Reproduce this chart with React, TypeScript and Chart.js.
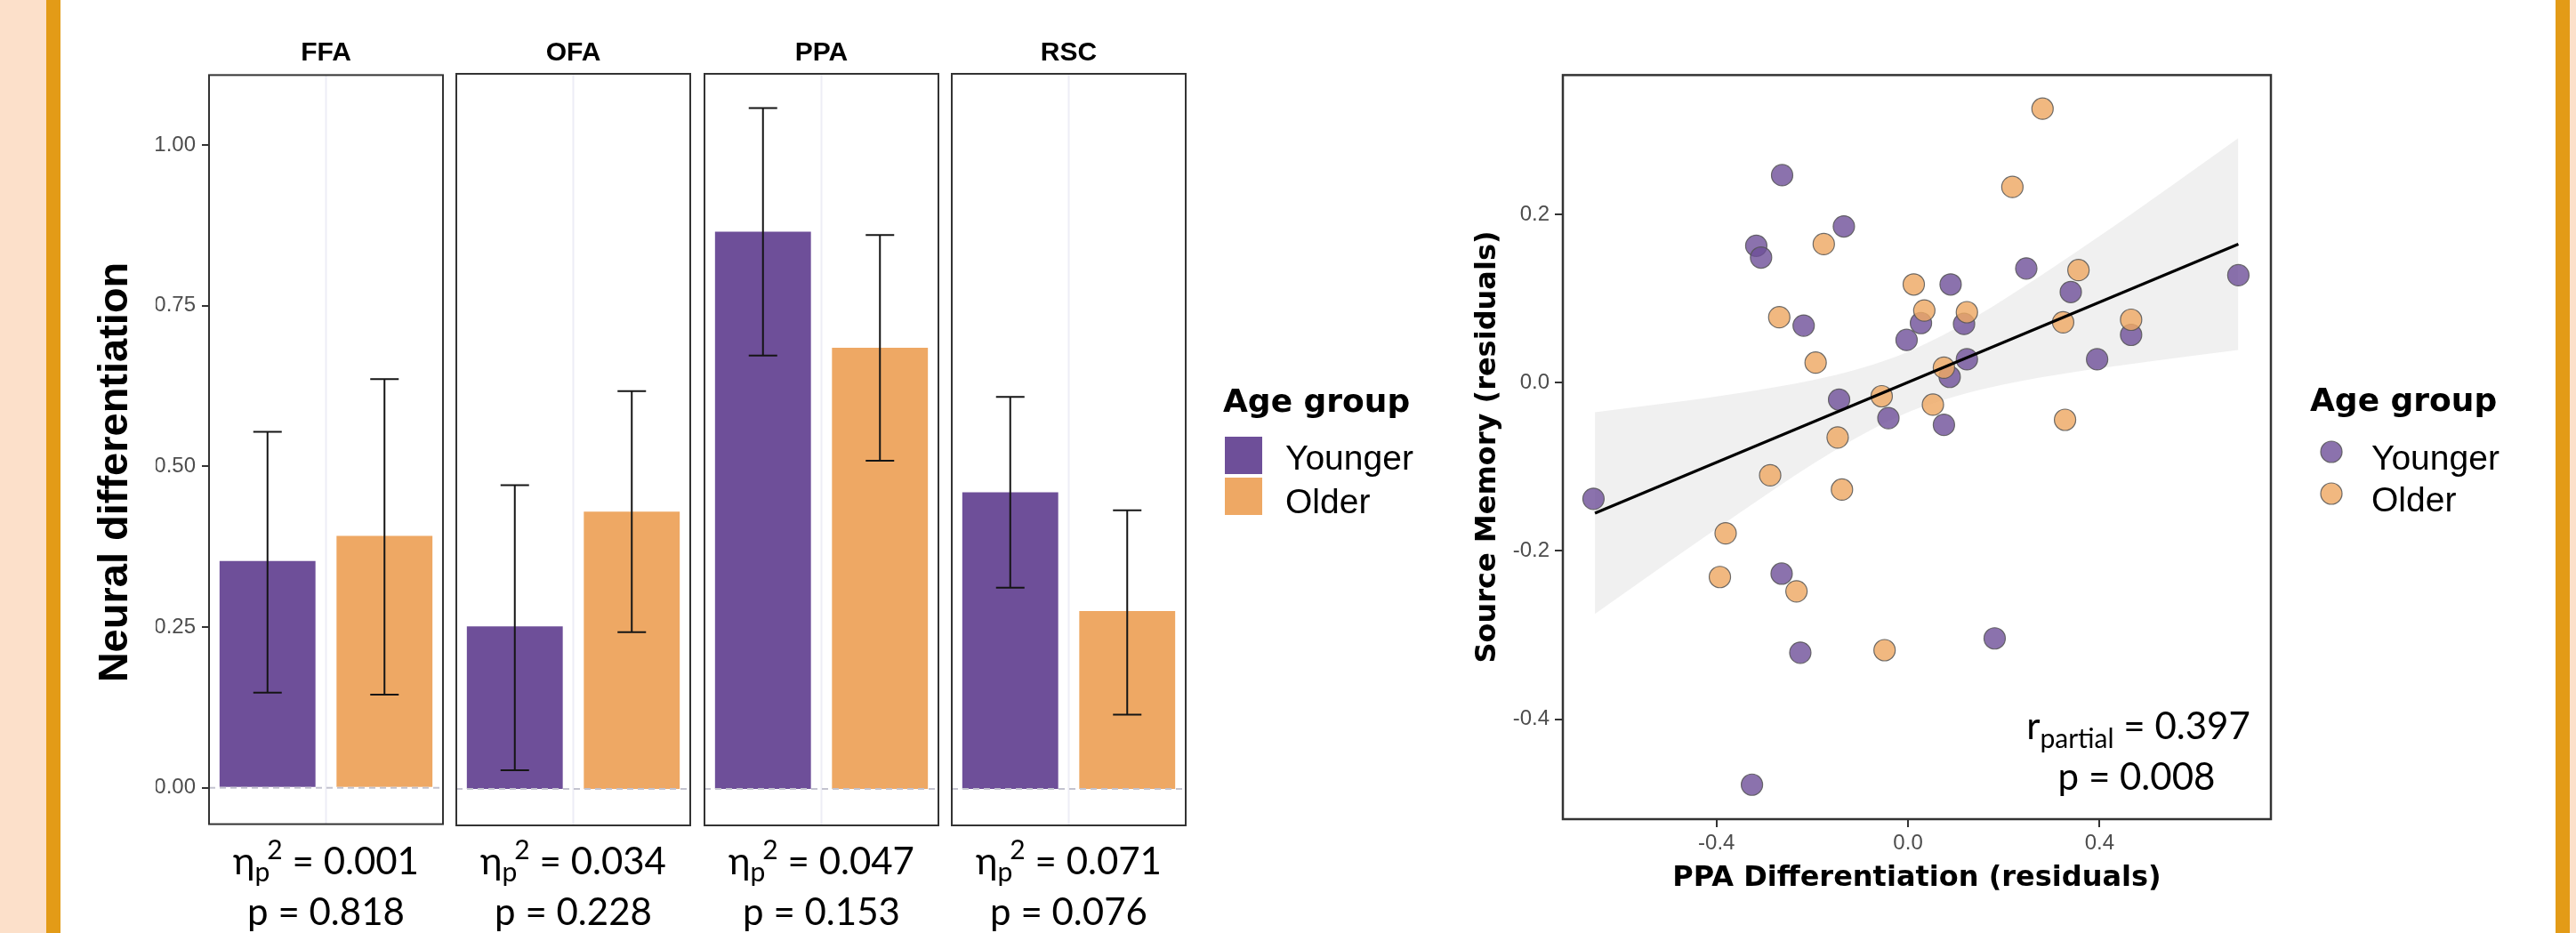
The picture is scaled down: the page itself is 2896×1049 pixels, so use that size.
import React, { useEffect, useRef } from "react";
import { Chart, registerables } from "chart.js";

Chart.register(...registerables);

// ---------------- data: bar facets ----------------
const regions = ["FFA", "OFA", "PPA", "RSC"];
const ageGroups = ["Younger", "Older"];
const youngerMean = [0.353, 0.252, 0.864, 0.46];
const youngerLower = [0.148, 0.029, 0.672, 0.312];
const youngerUpper = [0.554, 0.471, 1.056, 0.608];
const olderMean = [0.392, 0.43, 0.684, 0.276];
const olderLower = [0.145, 0.243, 0.509, 0.115];
const olderUpper = [0.636, 0.617, 0.859, 0.432];
const etaSquared = ["0.001", "0.034", "0.047", "0.071"];
const anovaP = ["0.818", "0.228", "0.153", "0.076"];
const barYTicks = [0, 0.25, 0.5, 0.75, 1.0];

// ---------------- data: scatter ----------------
const youngerX = [-0.263, -0.134, -0.317, -0.307, 0.247, 0.69, 0.089, 0.34, -0.218, 0.027, 0.117, 0.466, -0.003, 0.123, 0.395, 0.087, -0.144, -0.041, 0.075, -0.657, -0.264, 0.181, -0.225, -0.326];
const youngerY = [0.247, 0.186, 0.163, 0.149, 0.136, 0.128, 0.117, 0.108, 0.068, 0.071, 0.07, 0.057, 0.051, 0.028, 0.028, 0.007, -0.02, -0.042, -0.05, -0.138, -0.227, -0.304, -0.321, -0.478];
const olderX = [0.281, 0.218, -0.176, 0.356, 0.012, -0.269, 0.034, 0.123, 0.324, 0.466, -0.193, 0.075, -0.055, 0.052, 0.328, -0.147, -0.288, -0.138, -0.381, -0.393, -0.233, -0.049];
const olderY = [0.326, 0.233, 0.165, 0.134, 0.117, 0.078, 0.086, 0.084, 0.072, 0.075, 0.024, 0.018, -0.016, -0.026, -0.044, -0.065, -0.11, -0.127, -0.179, -0.231, -0.248, -0.318];
const fitX = [-0.654, 0.69];
const fitY = [-0.155, 0.165];
const bandX = [-0.654, -0.5, -0.35, -0.2, -0.1, 0, 0.1, 0.2, 0.35, 0.5, 0.69];
const bandLower = [-0.275, -0.213, -0.154, -0.097, -0.063, -0.035, -0.016, -0.002, 0.013, 0.025, 0.039];
const bandUpper = [-0.035, -0.024, -0.012, 0.003, 0.017, 0.037, 0.065, 0.099, 0.155, 0.214, 0.291];
const scatterXTicks = [-0.4, 0, 0.4];
const scatterYTicks = [-0.4, -0.2, 0, 0.2];
const rPartial = "0.397";
const corrP = "0.008";

// ---------------- layout / style ----------------
const PAGE_W = 2896;
const PAGE_H = 1049;
const PAD = 20;
const FACET_LEFTS = [235, 513, 792, 1070];
const FACET_W = 263;
const FACET_TOP = 83;
const FACET_H = 845;
const BAR_AXIS_W = 60;
const BAR_Y_MIN = -0.0566;
const BAR_Y_MAX = 1.109;

const SC_LEFT = 1757;
const SC_TOP = 84;
const SC_W = 796;
const SC_H = 837;
const SC_AXIS_W = 70;
const SC_AXIS_H = 50;
const SC_X_MIN = -0.721;
const SC_X_MAX = 0.758;
const SC_Y_MIN = -0.519;
const SC_Y_MAX = 0.366;

const PURPLE = "#6E4F99";
const ORANGE = "#EEA864";
const PURPLE_PT = "rgba(110,79,153,0.8)";
const ORANGE_PT = "rgba(238,168,100,0.82)";
const PT_BORDER = "rgba(85,85,85,0.85)";
const PEACH = "#FCE0CA";
const STRIPE = "#E39B17";
const ARIAL = "'Liberation Sans', Arial, sans-serif";
const DEJAVU = "'DejaVu Sans', Verdana, sans-serif";
const CALI = "Lato, 'Open Sans', sans-serif";

const facetDecor = {
  id: "facetDecor",
  beforeDatasetsDraw(chart: any) {
    const { ctx, chartArea: a } = chart;
    ctx.save();
    ctx.strokeStyle = "#EDEDF6";
    ctx.lineWidth = 2;
    const cx = (a.left + a.right) / 2;
    ctx.beginPath();
    ctx.moveTo(cx, a.top);
    ctx.lineTo(cx, a.bottom);
    ctx.stroke();
    ctx.restore();
  },
  afterDatasetsDraw(chart: any, _args: any, opts: any) {
    const { ctx, chartArea: a, scales } = chart;
    const y = scales.y;
    ctx.save();
    const y0 = y.getPixelForValue(0);
    ctx.strokeStyle = "#C3C3CF";
    ctx.lineWidth = 2;
    ctx.setLineDash([7, 5]);
    ctx.beginPath();
    ctx.moveTo(a.left, y0);
    ctx.lineTo(a.right, y0);
    ctx.stroke();
    ctx.setLineDash([]);
    const meta = chart.getDatasetMeta(0);
    ctx.strokeStyle = "#151515";
    ctx.lineWidth = 2;
    meta.data.forEach((bar: any, j: number) => {
      const yl = y.getPixelForValue(opts.lower[j]);
      const yu = y.getPixelForValue(opts.upper[j]);
      const x = bar.x;
      const hw = 16;
      ctx.beginPath();
      ctx.moveTo(x, yl);
      ctx.lineTo(x, yu);
      ctx.moveTo(x - hw, yl);
      ctx.lineTo(x + hw, yl);
      ctx.moveTo(x - hw, yu);
      ctx.lineTo(x + hw, yu);
      ctx.stroke();
    });
    ctx.strokeStyle = "#333333";
    ctx.lineWidth = 2;
    ctx.strokeRect(a.left, a.top, a.right - a.left, a.bottom - a.top);
    ctx.restore();
  },
};

const panelBorder = {
  id: "panelBorder",
  afterDatasetsDraw(chart: any) {
    const { ctx, chartArea: a } = chart;
    ctx.save();
    ctx.strokeStyle = "#333333";
    ctx.lineWidth = 2.5;
    ctx.strokeRect(a.left, a.top, a.right - a.left, a.bottom - a.top);
    ctx.restore();
  },
};

function BarFacet({ index }: { index: number }) {
  const ref = useRef<HTMLCanvasElement>(null);
  const axisW = index === 0 ? BAR_AXIS_W : 0;
  const cw = axisW + PAD * 2 + FACET_W;
  const ch = PAD * 2 + FACET_H;
  const left = FACET_LEFTS[index] - PAD - axisW;
  const top = FACET_TOP - PAD;
  useEffect(() => {
    const yScale: any = {
      display: index === 0,
      min: BAR_Y_MIN,
      max: BAR_Y_MAX,
      afterBuildTicks: (s: any) => {
        s.ticks = barYTicks.map((v) => ({ value: v }));
      },
      ticks: {
        callback: (v: any) => Number(v).toFixed(2),
        font: { family: ARIAL, size: 24 },
        color: "#4D4D4D",
        padding: 7,
      },
      grid: {
        drawOnChartArea: false,
        drawTicks: true,
        tickLength: 8,
        tickColor: "#333333",
        lineWidth: 2,
      },
      border: { display: false },
    };
    if (index === 0) {
      yScale.afterFit = (s: any) => {
        s.width = BAR_AXIS_W;
      };
    }
    const chart = new Chart(ref.current as HTMLCanvasElement, {
      type: "bar",
      data: {
        labels: ageGroups,
        datasets: [
          {
            data: [youngerMean[index], olderMean[index]],
            backgroundColor: [PURPLE, ORANGE],
            borderWidth: 0,
            barPercentage: 0.82,
            categoryPercentage: 1,
          },
        ],
      },
      options: {
        responsive: false,
        animation: false,
        devicePixelRatio: 1,
        layout: { padding: { left: PAD, right: PAD, top: PAD, bottom: PAD } },
        plugins: {
          legend: { display: false },
          tooltip: { enabled: false },
          facetDecor: {
            lower: [youngerLower[index], olderLower[index]],
            upper: [youngerUpper[index], olderUpper[index]],
          },
        } as any,
        scales: {
          x: { display: false, offset: true },
          y: yScale,
        },
      },
      plugins: [facetDecor],
    });
    return () => chart.destroy();
  }, [index]);
  return (
    <canvas
      ref={ref}
      width={cw}
      height={ch}
      style={{ position: "absolute", left, top, width: cw, height: ch }}
    />
  );
}

function ScatterPanel() {
  const ref = useRef<HTMLCanvasElement>(null);
  const cw = PAD + SC_AXIS_W + SC_W + PAD;
  const ch = PAD + SC_H + SC_AXIS_H + PAD;
  const left = SC_LEFT - PAD - SC_AXIS_W;
  const top = SC_TOP - PAD;
  useEffect(() => {
    const tickFont = { family: ARIAL, size: 24 };
    const chart = new Chart(ref.current as HTMLCanvasElement, {
      type: "scatter",
      data: {
        datasets: [
          {
            type: "line",
            data: bandX.map((x, k) => ({ x, y: bandLower[k] })),
            borderWidth: 0,
            pointRadius: 0,
            fill: false,
            cubicInterpolationMode: "monotone",
            order: 4,
          } as any,
          {
            type: "line",
            data: bandX.map((x, k) => ({ x, y: bandUpper[k] })),
            borderWidth: 0,
            pointRadius: 0,
            fill: "-1",
            backgroundColor: "rgba(190,190,190,0.23)",
            cubicInterpolationMode: "monotone",
            order: 3,
          } as any,
          {
            type: "scatter",
            data: youngerX.map((x, k) => ({ x, y: youngerY[k] })),
            pointRadius: 12,
            backgroundColor: PURPLE_PT,
            borderColor: PT_BORDER,
            borderWidth: 1.2,
            order: 2,
          },
          {
            type: "scatter",
            data: olderX.map((x, k) => ({ x, y: olderY[k] })),
            pointRadius: 12,
            backgroundColor: ORANGE_PT,
            borderColor: PT_BORDER,
            borderWidth: 1.2,
            order: 1,
          },
          {
            type: "line",
            data: fitX.map((x, k) => ({ x, y: fitY[k] })),
            borderColor: "#000000",
            borderWidth: 3.2,
            pointRadius: 0,
            fill: false,
            order: 0,
          } as any,
        ],
      },
      options: {
        responsive: false,
        animation: false,
        devicePixelRatio: 1,
        layout: { padding: { left: PAD, right: PAD, top: PAD, bottom: PAD } },
        plugins: { legend: { display: false }, tooltip: { enabled: false } },
        scales: {
          x: {
            type: "linear",
            min: SC_X_MIN,
            max: SC_X_MAX,
            afterBuildTicks: (s: any) => {
              s.ticks = scatterXTicks.map((v) => ({ value: v }));
            },
            afterFit: (s: any) => {
              s.height = SC_AXIS_H;
            },
            ticks: {
              callback: (v: any) => Number(v).toFixed(1),
              font: tickFont,
              color: "#4D4D4D",
              padding: 4,
              maxRotation: 0,
              autoSkip: false,
            },
            grid: { drawOnChartArea: false, drawTicks: true, tickLength: 9, tickColor: "#333333", lineWidth: 2 },
            border: { display: false },
          },
          y: {
            type: "linear",
            min: SC_Y_MIN,
            max: SC_Y_MAX,
            afterBuildTicks: (s: any) => {
              s.ticks = scatterYTicks.map((v) => ({ value: v }));
            },
            afterFit: (s: any) => {
              s.width = SC_AXIS_W;
            },
            ticks: {
              callback: (v: any) => Number(v).toFixed(1),
              font: tickFont,
              color: "#4D4D4D",
              padding: 6,
              autoSkip: false,
            },
            grid: { drawOnChartArea: false, drawTicks: true, tickLength: 9, tickColor: "#333333", lineWidth: 2 },
            border: { display: false },
          },
        },
      },
      plugins: [panelBorder],
    });
    return () => chart.destroy();
  }, []);
  return (
    <canvas
      ref={ref}
      width={cw}
      height={ch}
      style={{ position: "absolute", left, top, width: cw, height: ch }}
    />
  );
}

function Overlay() {
  const pre = { whiteSpace: "pre" as const };
  return (
    <svg
      width={PAGE_W}
      height={PAGE_H}
      style={{ position: "absolute", left: 0, top: 0, pointerEvents: "none" }}
    >
      {regions.map((r, i) => (
        <text
          key={"strip" + r}
          x={FACET_LEFTS[i] + FACET_W / 2}
          y={68}
          textAnchor="middle"
          fontFamily={ARIAL}
          fontWeight="bold"
          fontSize={30}
          fill="#000"
        >
          {r}
        </text>
      ))}
      {regions.map((r, i) => (
        <g key={"ann" + r}>
          <text
            x={FACET_LEFTS[i] + FACET_W / 2}
            y={983}
            textAnchor="middle"
            fontFamily={CALI}
            fontSize={42}
            fill="#000"
            style={pre}
          >
            η
            <tspan fontSize={30} dy={8}>p</tspan>
            <tspan fontSize={30} dx={-3} dy={-25}>2</tspan>
            <tspan dy={17}>{" = " + etaSquared[i]}</tspan>
          </text>
          <text
            x={FACET_LEFTS[i] + FACET_W / 2}
            y={1040}
            textAnchor="middle"
            fontFamily={CALI}
            fontSize={42}
            fill="#000"
            style={pre}
          >
            {"p = " + anovaP[i]}
          </text>
        </g>
      ))}
      <text
        transform="translate(143,531) rotate(-90)"
        textAnchor="middle"
        fontFamily={ARIAL}
        fontWeight="bold"
        fontSize={47}
        fill="#000"
      >
        Neural differentiation
      </text>
      {/* bar legend */}
      <text x={1375} y={463} fontFamily={DEJAVU} fontWeight="bold" fontSize={36} fill="#000">
        Age group
      </text>
      <rect x={1377} y={491} width={42} height={42} fill={PURPLE} />
      <rect x={1377} y={537} width={42} height={42} fill={ORANGE} />
      <text x={1445} y={528} fontFamily={ARIAL} fontSize={39} fill="#000">
        {ageGroups[0]}
      </text>
      <text x={1445} y={577} fontFamily={ARIAL} fontSize={39} fill="#000">
        {ageGroups[1]}
      </text>
      {/* scatter titles */}
      <text
        x={SC_LEFT + SC_W / 2}
        y={996}
        textAnchor="middle"
        fontFamily={DEJAVU}
        fontWeight="bold"
        fontSize={32}
        fill="#000"
      >
        PPA Differentiation (residuals)
      </text>
      <text
        transform={`translate(1681,${SC_TOP + SC_H / 2}) rotate(-90)`}
        textAnchor="middle"
        fontFamily={DEJAVU}
        fontWeight="bold"
        fontSize={32}
        fill="#000"
      >
        Source Memory (residuals)
      </text>
      <text x={2404} y={831} textAnchor="middle" fontFamily={CALI} fontSize={42} fill="#000" style={pre}>
        r
        <tspan fontSize={30} dy={10}>partial</tspan>
        <tspan dy={-10}>{" = " + rPartial}</tspan>
      </text>
      <text x={2402} y={888} textAnchor="middle" fontFamily={CALI} fontSize={42} fill="#000" style={pre}>
        {"p = " + corrP}
      </text>
      {/* scatter legend */}
      <text x={2597} y={462} fontFamily={DEJAVU} fontWeight="bold" fontSize={36} fill="#000">
        Age group
      </text>
      <circle cx={2621} cy={508} r={12} fill={PURPLE_PT} stroke={PT_BORDER} strokeWidth={1.2} />
      <circle cx={2621} cy={555} r={12} fill={ORANGE_PT} stroke={PT_BORDER} strokeWidth={1.2} />
      <text x={2666} y={528} fontFamily={ARIAL} fontSize={39} fill="#000">
        {ageGroups[0]}
      </text>
      <text x={2666} y={575} fontFamily={ARIAL} fontSize={39} fill="#000">
        {ageGroups[1]}
      </text>
    </svg>
  );
}

export default function App() {
  return (
    <div
      style={{
        position: "fixed",
        left: 0,
        top: 0,
        width: PAGE_W,
        height: PAGE_H,
        background: "#ffffff",
        overflow: "hidden",
      }}
    >
      <div style={{ position: "absolute", left: 0, top: 0, width: 52, height: PAGE_H, background: PEACH }} />
      <div style={{ position: "absolute", left: 52, top: 0, width: 16, height: PAGE_H, background: STRIPE }} />
      <div style={{ position: "absolute", left: 2873, top: 0, width: 16, height: PAGE_H, background: STRIPE }} />
      <div style={{ position: "absolute", left: 2889, top: 0, width: 7, height: PAGE_H, background: PEACH }} />
      {regions.map((r, i) => (
        <BarFacet key={r} index={i} />
      ))}
      <ScatterPanel />
      <Overlay />
    </div>
  );
}
